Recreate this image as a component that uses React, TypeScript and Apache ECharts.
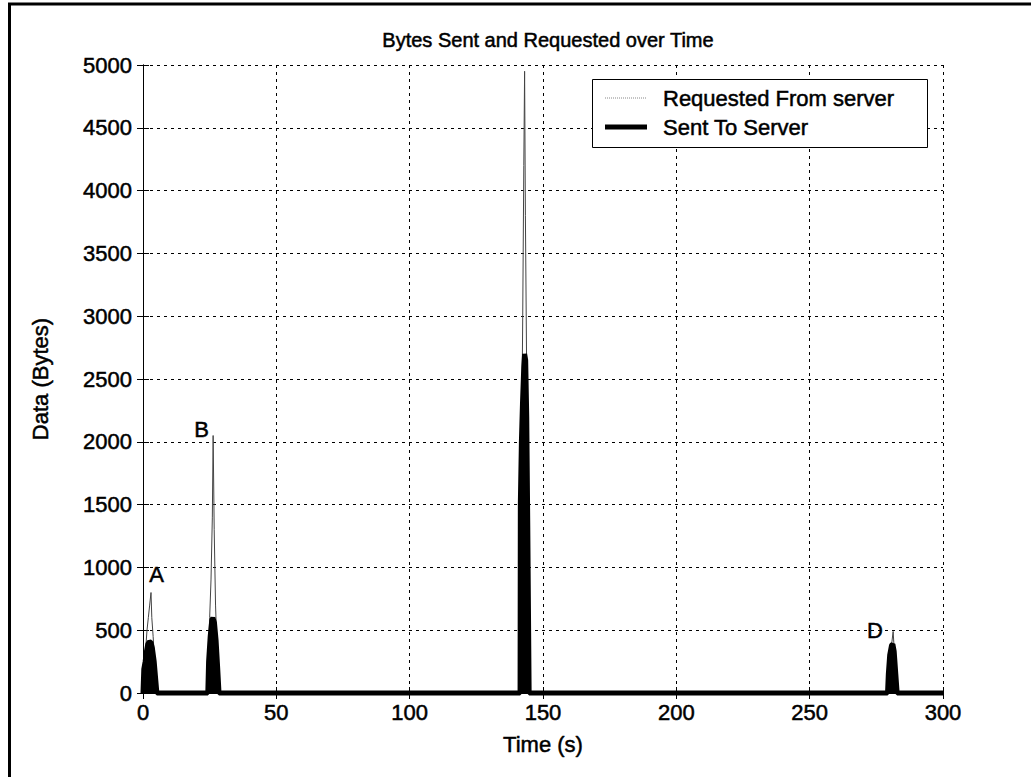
import React, { useEffect, useRef } from "react";
import * as echarts from "echarts";

const TITLE = "Bytes Sent and Requested over Time";
const X_NAME = "Time (s)";
const Y_NAME = "Data (Bytes)";
const SERIES_NAMES = ["Requested From server", "Sent To Server"];

// Requested From server: time (s) and bytes
const requestedTimes = [
  0, 0.5, 1, 1.5, 2, 2.5, 3, 3.3, 3.8, 4.5, 5,
  24, 24.5, 25, 25.5, 26, 26.3, 26.7, 27.2, 28, 28.5,
  141.2, 141.8, 142.4, 142.8, 143.1, 143.4, 143.9, 144.5, 145,
  279, 280, 280.8, 281.3, 281.7, 282.5, 283, 300,
];
const requestedBytes = [
  0, 200, 350, 500, 600, 700, 800, 600, 450, 200, 0,
  0, 300, 600, 900, 1400, 2050, 1300, 700, 200, 0,
  0, 1500, 3000, 4200, 4950, 3800, 2500, 800, 0,
  0, 250, 400, 490, 350, 100, 0, 0,
];

// Sent To Server: time (s) and bytes
const sentTimes = [
  0, 0.3, 0.8, 1.3, 1.8, 2.4, 3, 3.5, 4.2, 4.8, 5.2,
  24.3, 24.6, 25.2, 25.8, 26.2, 26.8, 27.4, 28, 28.5,
  141.4, 141.5, 141.9, 142.3, 142.8, 143.1, 143.5, 143.9, 144.3, 144.8,
  279.2, 279.5, 280, 280.7, 281.2, 281.7, 282.3, 282.8, 300,
];
const sentBytes = [
  0, 190, 250, 330, 390, 410, 400, 360, 250, 100, 0,
  0, 250, 450, 580, 600, 560, 420, 200, 0,
  0, 1500, 2000, 2300, 2600, 2700, 2650, 2200, 1300, 0,
  0, 150, 300, 380, 389, 330, 150, 0, 0,
];

// Annotation letters placed in data units
const annotationNames = ["A", "B", "C", "D"];
const annotationTimes = [5.1, 22, 136.5, 274.5];
const annotationBytes = [940, 2094, 5095, 500];

const FONT = "'Liberation Sans', Arial, Helvetica, sans-serif";
const HEAVY = { textBorderColor: "#000", textBorderWidth: 0.5 };

export default function App() {
  const ref = useRef<HTMLDivElement>(null);

  useEffect(() => {
    if (!ref.current) return;
    const chart = echarts.init(ref.current, undefined, { renderer: "svg" });

    const requested = requestedTimes.map((t, i) => [t, requestedBytes[i]]);
    const sent = sentTimes.map((t, i) => [t, sentBytes[i]]);
    const annotations = annotationNames.map((n, i) => ({
      name: n,
      coord: [annotationTimes[i], annotationBytes[i]],
    }));

    const tickLabel = { color: "#000", fontSize: 22, fontFamily: FONT, ...HEAVY, formatter: (v: number) => String(v) };
    const split = {
      show: true,
      lineStyle: { color: "#000", width: 1, type: [3, 4] as any },
    };
    const axisLine = { show: true, lineStyle: { color: "#000", width: 1 } };
    const axisTick = { show: true, inside: true, length: 6, lineStyle: { color: "#000" } };

    chart.setOption({
      animation: false,
      backgroundColor: "#fff",
      title: {
        text: TITLE,
        left: 543,
        top: 25,
        textAlign: "center",
        textStyle: { color: "#000", fontSize: 20, fontWeight: "normal", fontFamily: FONT, ...HEAVY },
      },
      grid: { left: 143, right: 88, top: 65, bottom: 84, show: false },
      xAxis: [
        {
          type: "value",
          min: 0,
          max: 300,
          interval: 50,
          name: X_NAME,
          nameLocation: "middle",
          nameGap: 40,
          nameTextStyle: { color: "#000", fontSize: 22, fontFamily: FONT, ...HEAVY },
          axisLine,
          axisTick,
          axisLabel: { ...tickLabel, margin: 8 },
          splitLine: split,
        },
        {
          type: "value",
          position: "top",
          min: 0,
          max: 300,
          interval: 50,
          axisLine,
          axisTick,
          axisLabel: { show: false },
          splitLine: { show: false },
        },
      ],
      yAxis: [
        {
          type: "value",
          min: 0,
          max: 5000,
          interval: 500,
          name: Y_NAME,
          nameLocation: "middle",
          nameGap: 92,
          nameRotate: 90,
          nameTextStyle: { color: "#000", fontSize: 22, fontFamily: FONT, ...HEAVY },
          axisLine,
          axisTick,
          axisLabel: { ...tickLabel, margin: 11 },
          splitLine: split,
        },
        {
          type: "value",
          position: "right",
          min: 0,
          max: 5000,
          interval: 500,
          axisLine,
          axisTick,
          axisLabel: { show: false },
          splitLine: { show: false },
        },
      ],
      series: [
        {
          name: SERIES_NAMES[0],
          type: "line",
          data: requested,
          showSymbol: false,
          clip: false,
          lineStyle: { color: "#444", width: 1 },
          z: 3,
          markPoint: {
            symbol: "circle",
            symbolSize: 1,
            itemStyle: { color: "rgba(0,0,0,0)" },
            label: {
              show: true,
              formatter: "{b}",
              color: "#000",
              fontSize: 22,
              fontFamily: FONT,
              position: "inside",
              ...HEAVY,
            },
            data: annotations,
          },
        },
        {
          name: SERIES_NAMES[1],
          type: "line",
          data: sent,
          showSymbol: false,
          clip: false,
          lineStyle: { color: "#000", width: 5 },
          areaStyle: { color: "#000", opacity: 1 },
          z: 4,
        },
      ],
      graphic: [
        // outer frame
        { type: "line", shape: { x1: 8, y1: 4, x2: 1031, y2: 4 }, style: { stroke: "#000", lineWidth: 3 } },
        { type: "line", shape: { x1: 9.5, y1: 4, x2: 9.5, y2: 777 }, style: { stroke: "#000", lineWidth: 3 } },
        // legend box
        {
          type: "rect",
          z: 100,
          shape: { x: 592.5, y: 79.5, width: 335, height: 68 },
          style: { fill: "#fff", stroke: "#000", lineWidth: 1 },
        },
        {
          type: "line",
          z: 101,
          shape: { x1: 605, y1: 98, x2: 647, y2: 98 },
          style: { stroke: "#888", lineWidth: 1, lineDash: [1, 1] },
        },
        {
          type: "text",
          z: 101,
          x: 663,
          y: 98,
          style: { text: SERIES_NAMES[0], fill: "#000", fontSize: 22, fontFamily: FONT, verticalAlign: "middle", stroke: "#000", lineWidth: 0.5 },
        },
        {
          type: "line",
          z: 101,
          shape: { x1: 605, y1: 127, x2: 647, y2: 127 },
          style: { stroke: "#000", lineWidth: 5 },
        },
        {
          type: "text",
          z: 101,
          x: 663,
          y: 127,
          style: { text: SERIES_NAMES[1], fill: "#000", fontSize: 22, fontFamily: FONT, verticalAlign: "middle", stroke: "#000", lineWidth: 0.5 },
        },
      ],
    });

    return () => chart.dispose();
  }, []);

  return (
    <div
      ref={ref}
      style={{ position: "fixed", left: 0, top: 0, width: 1031, height: 777, background: "#fff" }}
    />
  );
}
